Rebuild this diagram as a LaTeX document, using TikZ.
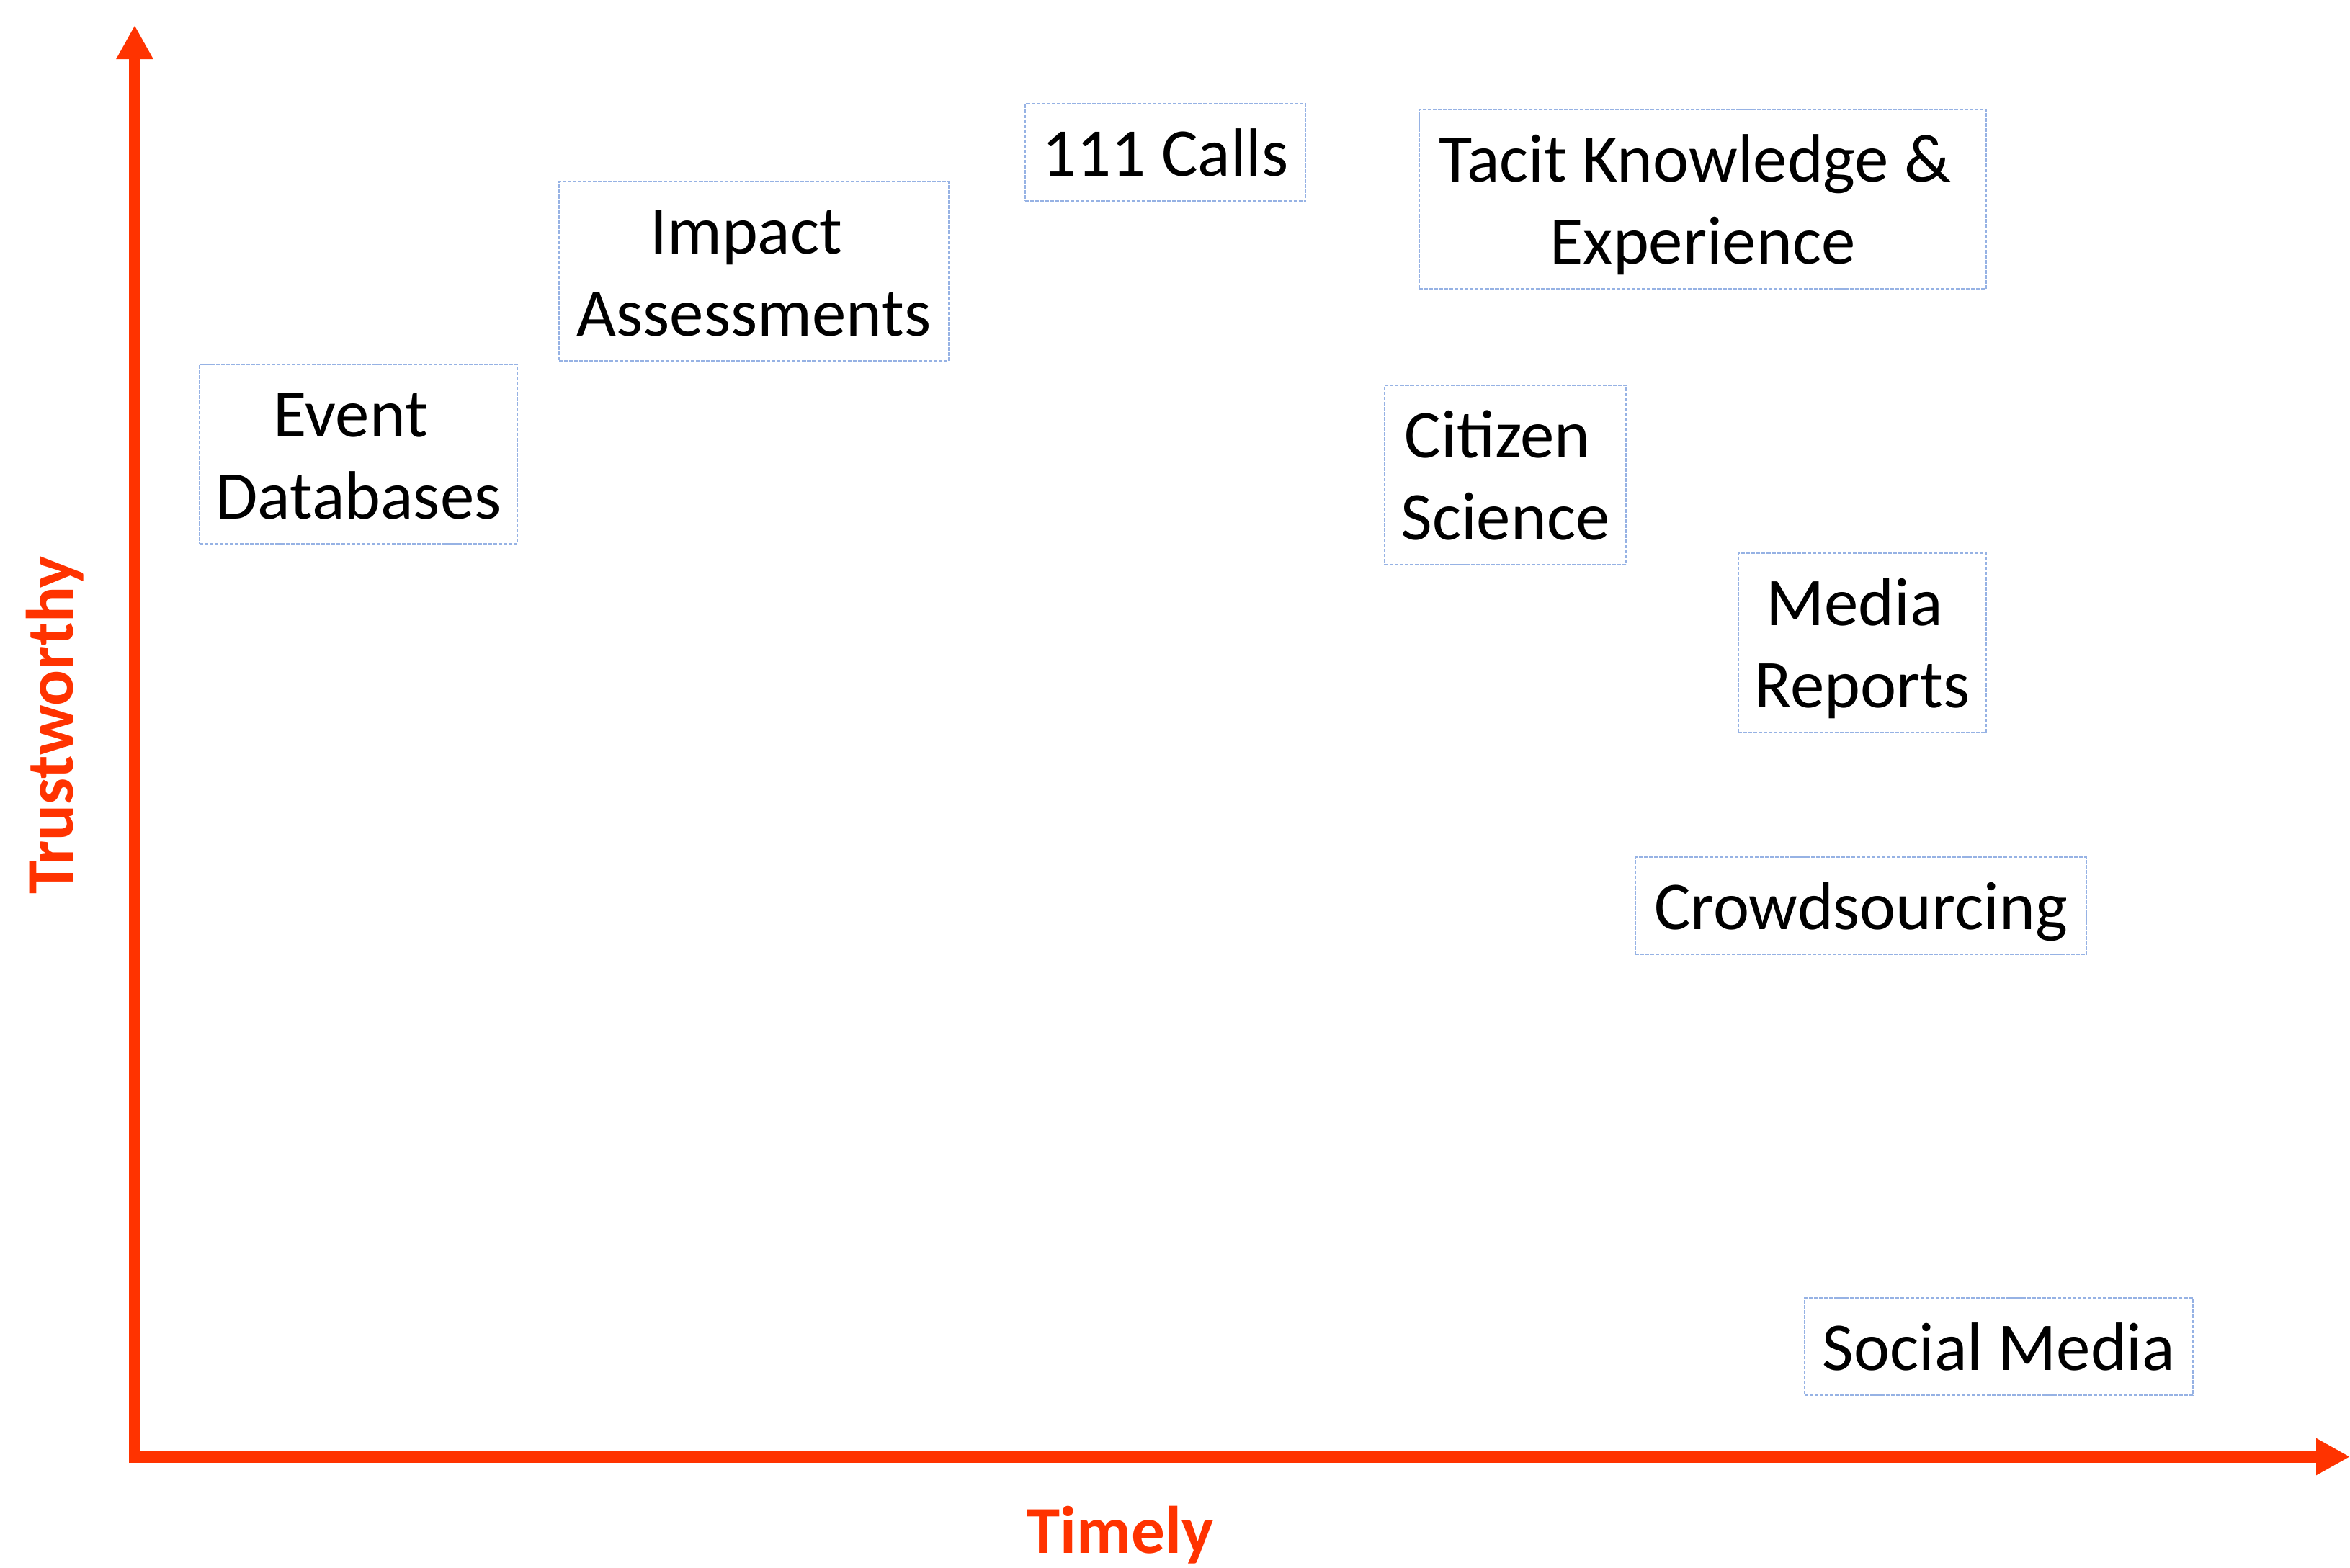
\documentclass[tikz,border=0pt]{standalone}
\usepackage{fontspec}
\setmainfont{Carlito}
\usepackage{tikz}
\usetikzlibrary{arrows.meta}
\usetikzlibrary{calc}

\definecolor{axisred}{RGB}{255,51,0}
\definecolor{boxblue}{RGB}{150,178,228}

% fixed room above the first line and below the last line of a box
\newcommand{\padtop}{\rule{0pt}{28.5pt}}
\newcommand{\padbot}{\rule[-10pt]{0pt}{10pt}}
\newcommand{\eolsp}{\hbox{\ }}

\begin{document}
\begin{tikzpicture}[x=1cm,y=-1cm,inner sep=0pt,outer sep=0pt]

	\tikzset{source/.style={draw=boxblue,line width=0.6pt,
		dash pattern=on 1.45pt off 0.55pt,align=center,anchor=north west,
		font=\fontsize{27}{32.4}\selectfont}}

	\tikzset{axis/.style={draw=axisred,line width=0.16cm,
		-{Triangle[width=0.48cm,length=0.47cm]}}}

	\tikzset{axislabel/.style={text=axisred,font=\fontsize{26.5}{32}\selectfont\bfseries}}

	\useasboundingbox (0,0) rectangle (32.62,21.76);

	% Axes.
	\coordinate (origin) at (1.87,20.225);
	\coordinate (ytip) at (1.87,0.35);
	\coordinate (xtip) at (32.62,20.225);
	\draw [axis] ($(origin)+(0,0.085)$) -- (ytip);
	\draw [axis] ($(origin)+(-0.08,0)$) -- (xtip);

	\node (timely) [axislabel] at (15.55,21.31) {Timely};
	\node (trust) [axislabel,rotate=90] at (0.76,10.07) {Trustworthy};

	% Data sources.
	\node (events) [source,minimum width=4.41cm] at (2.77,5.06)
		{\padtop Event\eolsp\\Databases\padbot};
	\node (impact) [source,minimum width=5.41cm] at (7.76,2.52)
		{\padtop Impact\eolsp\\Assessments\padbot};
	\node (calls) [source,minimum width=3.89cm] at (14.23,1.44)
		{\padtop 111 Calls\padbot};
	\node (tacit) [source,minimum width=7.87cm] at (19.70,1.52)
		{\padtop Tacit Knowledge \&\eolsp\\Experience\padbot};
	\node (citizen) [source,minimum width=3.35cm] at (19.22,5.35)
		{\padtop Citizen\eolsp\\Science\padbot};
	\node (media) [source,minimum width=3.44cm] at (24.13,7.68)
		{\padtop Media\eolsp\\Reports\padbot};
	\node (crowd) [source,minimum width=6.26cm] at (22.70,11.90)
		{\padtop Crowdsourcing\padbot};
	\node (social) [source,minimum width=5.39cm] at (25.05,18.02)
		{\padtop Social Media\padbot};
\end{tikzpicture}
\end{document}
